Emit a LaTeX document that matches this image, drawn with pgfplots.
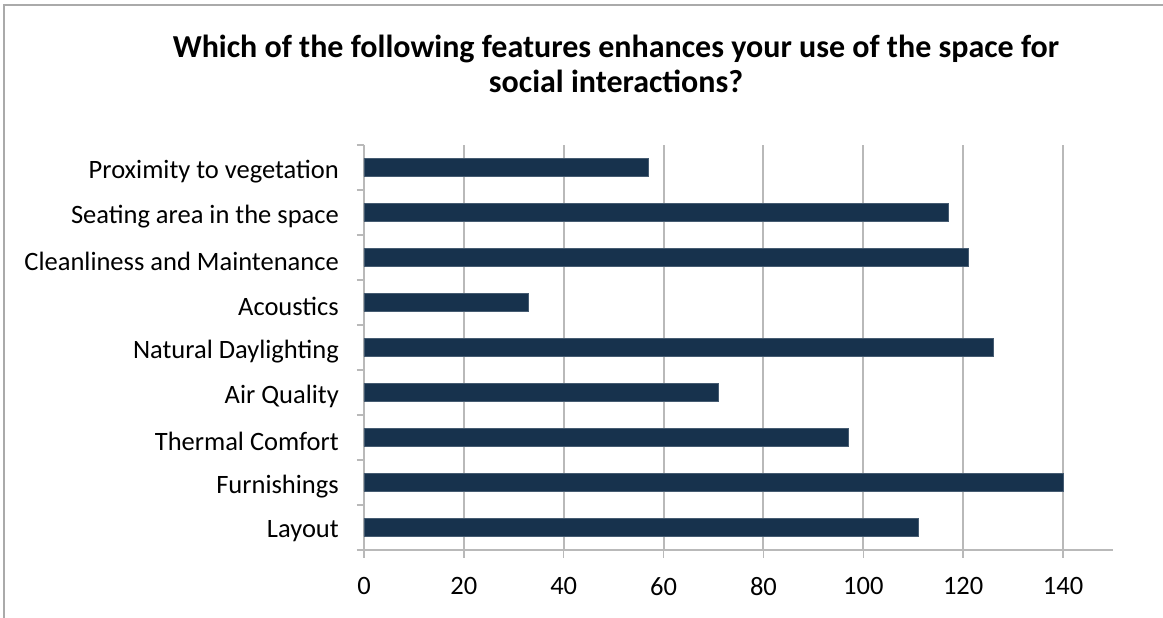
\documentclass[border=0pt]{standalone}
\usepackage{pgfplots}
\pgfplotsset{compat=1.18}
\usepackage{fontspec}
\setmainfont{Carlito}
\definecolor{barblue}{RGB}{23,50,77}
\definecolor{gridgray}{RGB}{185,185,185}
\definecolor{framegray}{RGB}{170,170,170}
\begin{document}
\begin{tikzpicture}[x=1pt,y=1pt]
\useasboundingbox (0,0) rectangle (1163,618);
\fill[white] (0,0) rectangle (1163,618);
\draw[framegray, line width=2pt] (4,-2) -- (4,613) -- (1165,613);
\node[font=\fontsize{32}{35}\selectfont\bfseries, align=center] at (616,554) {Which of the following features enhances your use of the space for\\social interactions?};
\begin{axis}[
  at={(364pt,68pt)}, anchor=south west,
  scale only axis, width=749pt, height=405pt,
  xbar, bar width=18pt,
  xmin=0, xmax=150, ymin=-0.5, ymax=8.5,
  xtick={0,20,...,140},
  ytick={0,...,8},
  yticklabels={Layout,Furnishings,Thermal Comfort,Air Quality,Natural Daylighting,Acoustics,Cleanliness and Maintenance,Seating area in the space,Proximity to vegetation},
  minor ytick={-0.5,0.5,...,8.5},
  axis x line=bottom, axis y line=left,
  axis line style={-, gridgray, line width=2pt},
  tick align=outside,
  major tick length=8pt, minor tick length=7pt,
  every tick/.style={gridgray, line width=1.5pt},
  every major y tick/.append style={draw=none},
  every minor y tick/.append style={gridgray, line width=1.5pt},
  xmajorgrids, major x grid style={gridgray, line width=2pt},
  /pgf/number format/assume math mode=true,
  ticklabel style={font=\fontsize{26.5}{30}\selectfont, text=black},
  yticklabel style={inner sep=0pt, xshift=-17pt, yshift=-4pt},
  xticklabel style={inner sep=0pt, yshift=-19pt},
  clip=false,
]
\addplot[fill=barblue, draw=barblue!80!white, line width=0.6pt] coordinates {
 (111,0) (140,1) (97,2) (71,3) (126,4) (33,5) (121,6) (117,7) (57,8)
};
\end{axis}
\end{tikzpicture}
\end{document}
